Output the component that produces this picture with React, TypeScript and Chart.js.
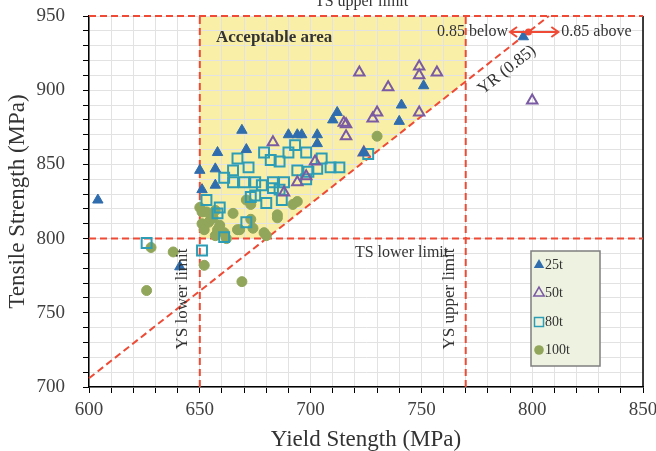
import React, { useEffect, useRef } from 'react';
import { Chart, registerables } from 'chart.js';

Chart.register(...registerables);

// Axis ranges
const X_MIN = 600, X_MAX = 850, X_STEP = 10;
const Y_MIN = 700, Y_MAX = 950, Y_STEP = 10;
const LABEL_EVERY = 50;

// Limits
const TS_LOWER = 800, TS_UPPER = 950, YS_LOWER = 650, YS_UPPER = 770, YR = 0.85;

const seriesNames = ['25t', '50t', '80t', '100t'];

// 25t (filled triangles)
const t25X = [604, 641, 650, 651, 657, 657, 658, 669, 671, 690, 694, 696, 703, 703, 710, 712, 724, 740, 741, 751, 796];
const t25Y = [826, 781, 846, 833, 847, 836, 858, 873, 860, 870, 870, 870, 870, 864, 880, 885, 858, 879, 890, 903, 936];

// 50t (open triangles)
const t50X = [683, 688, 694, 698, 702, 715, 716, 716, 722, 724, 728, 730, 735, 749, 749, 749, 757, 800];
const t50Y = [865, 831, 838, 842, 852, 878, 877, 869, 912, 858, 881, 885, 902, 916, 910, 885, 912, 893];

// 80t (open squares)
const t80X = [626, 651, 653, 658, 661, 659, 661, 665, 665, 667, 670, 672, 675, 675, 678, 679, 680, 682, 683, 683, 686, 686, 687, 688, 690, 693, 694, 698, 698, 699, 703, 705, 709, 713, 671, 673, 726];
const t80Y = [797, 792, 826, 817, 801, 821, 841, 846, 838, 854, 838, 848, 838, 829, 836, 858, 824, 853, 834, 838, 852, 833, 826, 838, 858, 863, 846, 858, 840, 845, 847, 854, 848, 848, 811, 828, 857];

// 100t (filled circles)
const t100X = [626, 628, 638, 652, 669, 650, 651, 651, 652, 653, 654, 655, 656, 657, 657, 658, 659, 661, 662, 665, 667, 668, 671, 673, 673, 674, 679, 680, 685, 685, 692, 694, 730];
const t100Y = [765, 794, 791, 782, 771, 821, 818, 810, 806, 818, 811, 813, 814, 819, 802, 806, 809, 804, 800, 817, 806, 806, 826, 823, 813, 807, 804, 802, 814, 816, 823, 825, 869];

const SERIF = '"Liberation Serif", "Times New Roman", serif';
const RED = '#EE4A35';
const COLORS = { t25: '#2F6DAE', t50: '#7A5AA3', t80: '#2C9DB5', t100: '#91A65A' };

const toPts = (xs: number[], ys: number[]) => xs.map((x, i) => ({ x, y: ys[i] }));

function drawMarker(ctx: CanvasRenderingContext2D, kind: string, cx: number, cy: number, r: number) {
  ctx.save();
  ctx.beginPath();
  if (kind === 't25' || kind === 't50') {
    ctx.moveTo(cx, cy - r);
    ctx.lineTo(cx + r * 0.866, cy + r * 0.5);
    ctx.lineTo(cx - r * 0.866, cy + r * 0.5);
    ctx.closePath();
  } else if (kind === 't80') {
    const s = r * 0.75;
    ctx.rect(cx - s, cy - s, 2 * s, 2 * s);
  } else {
    ctx.arc(cx, cy, r * 0.8, 0, Math.PI * 2);
  }
  if (kind === 't25' || kind === 't100') {
    ctx.fillStyle = (COLORS as any)[kind];
    ctx.fill();
  } else {
    ctx.strokeStyle = (COLORS as any)[kind];
    ctx.lineWidth = 1.5;
    ctx.stroke();
  }
  ctx.restore();
}

const overlay = {
  id: 'overlay',
  beforeDraw(chart: any) {
    const { ctx, scales: { x, y } } = chart;
    const pts = [
      [YS_LOWER, TS_LOWER],
      [TS_LOWER * YR, TS_LOWER],
      [YS_UPPER, YS_UPPER / YR],
      [YS_UPPER, TS_UPPER],
      [YS_LOWER, TS_UPPER],
    ];
    ctx.save();
    ctx.fillStyle = '#FAEFA7';
    ctx.beginPath();
    pts.forEach((p, i) => {
      const px = x.getPixelForValue(p[0]);
      const py = y.getPixelForValue(p[1]);
      if (i === 0) ctx.moveTo(px, py); else ctx.lineTo(px, py);
    });
    ctx.closePath();
    ctx.fill();
    ctx.restore();
  },
  beforeDatasetsDraw(chart: any) {
    const { ctx, chartArea: a, scales: { x, y } } = chart;
    ctx.save();
    // right border
    ctx.strokeStyle = '#000';
    ctx.lineWidth = 1.5;
    ctx.beginPath();
    ctx.moveTo(a.right, a.top);
    ctx.lineTo(a.right, a.bottom);
    ctx.stroke();

    ctx.strokeStyle = RED;
    ctx.lineWidth = 2;
    ctx.setLineDash([7, 4]);
    const line = (x1: number, y1: number, x2: number, y2: number) => {
      ctx.beginPath();
      ctx.moveTo(x.getPixelForValue(x1), y.getPixelForValue(y1));
      ctx.lineTo(x.getPixelForValue(x2), y.getPixelForValue(y2));
      ctx.stroke();
    };
    line(X_MIN, TS_UPPER, X_MAX, TS_UPPER);
    line(X_MIN, TS_LOWER, X_MAX, TS_LOWER);
    line(YS_LOWER, Y_MIN, YS_LOWER, Y_MAX);
    line(YS_UPPER, Y_MIN, YS_UPPER, Y_MAX);
    line(X_MIN, X_MIN / YR, Y_MAX * YR, Y_MAX);
    ctx.restore();
  },
  afterDatasetsDraw(chart: any) {
    const { ctx, chartArea: a, scales: { x, y } } = chart;
    const X = (v: number) => x.getPixelForValue(v);
    const Y = (v: number) => y.getPixelForValue(v);
    ctx.save();
    ctx.fillStyle = '#333';
    ctx.textBaseline = 'middle';

    // TS upper limit
    ctx.font = `16px ${SERIF}`;
    ctx.textAlign = 'center';
    ctx.textBaseline = 'alphabetic';
    ctx.fillText('TS upper limit', X(723), a.top - 10);
    ctx.textBaseline = 'middle';

    // Acceptable area
    ctx.font = `bold 17px ${SERIF}`;
    ctx.textAlign = 'left';
    ctx.fillText('Acceptable area', X(657.3), Y(935.5));

    // 0.85 below / above
    const ay = 939.2;
    ctx.font = `16px ${SERIF}`;
    ctx.textAlign = 'right';
    ctx.fillText('0.85 below', X(790) - 2, Y(ay));
    ctx.textAlign = 'left';
    ctx.fillText('0.85 above', X(811.8) + 3, Y(ay));

    // double arrow
    ctx.strokeStyle = RED;
    ctx.lineWidth = 2;
    const x1 = X(790), x2 = X(811.8), yy = Y(ay);
    ctx.beginPath();
    ctx.moveTo(x1, yy); ctx.lineTo(x2, yy);
    ctx.moveTo(x1 + 7, yy - 5); ctx.lineTo(x1, yy); ctx.lineTo(x1 + 7, yy + 5);
    ctx.moveTo(x2 - 7, yy - 5); ctx.lineTo(x2, yy); ctx.lineTo(x2 - 7, yy + 5);
    ctx.stroke();
    ctx.fillStyle = RED;
    ctx.beginPath();
    ctx.arc(X(ay * YR), yy, 3.5, 0, Math.PI * 2);
    ctx.fill();
    ctx.fillStyle = '#333';

    // YR (0.85)
    const ang = Math.atan2(Y(900) - Y(900 + 10), X(900 * YR + 10 * YR) - X(900 * YR));
    ctx.save();
    ctx.translate(X(788.6), Y(913.6));
    ctx.rotate(-ang);
    ctx.textAlign = 'center';
    ctx.font = `17px ${SERIF}`;
    ctx.fillText('YR (0.85)', 0, 0);
    ctx.restore();

    // TS lower limit
    ctx.font = `16px ${SERIF}`;
    ctx.textAlign = 'left';
    ctx.fillText('TS lower limit', X(720), Y(790.3));

    // YS lower / upper limit (vertical)
    const vtext = (t: string, xv: number, yv: number) => {
      ctx.save();
      ctx.translate(X(xv), Y(yv));
      ctx.rotate(-Math.PI / 2);
      ctx.textAlign = 'center';
      ctx.font = `17px ${SERIF}`;
      ctx.fillText(t, 0, 0);
      ctx.restore();
    };
    vtext('YS lower limit', 642.4, 759.3);
    vtext('YS upper limit', 762.9, 759.3);

    // Legend box
    const lx = a.right - 112, ly = a.top + 235, lw = 69, lh = 115;
    ctx.fillStyle = '#EEF3E1';
    ctx.fillRect(lx, ly, lw, lh);
    ctx.strokeStyle = '#7F7F7F';
    ctx.lineWidth = 1.5;
    ctx.strokeRect(lx, ly, lw, lh);
    const kinds = ['t25', 't50', 't80', 't100'];
    const rows = [14, 42, 71, 99];
    ctx.font = `14px ${SERIF}`;
    ctx.textAlign = 'left';
    kinds.forEach((k, i) => {
      drawMarker(ctx, k, lx + 8, ly + rows[i], 6);
      ctx.fillStyle = '#333';
      ctx.fillText(seriesNames[i], lx + 14, ly + rows[i]);
    });
    ctx.restore();
  },
};

export default function App() {
  const ref = useRef<HTMLCanvasElement>(null);
  useEffect(() => {
    if (!ref.current) return;
    const tickCb = (v: any) => (Number(v) % LABEL_EVERY === 0 ? String(v) : '');
    const chart = new Chart(ref.current, {
      type: 'scatter',
      data: {
        datasets: [
          {
            label: seriesNames[0], data: toPts(t25X, t25Y), pointStyle: 'triangle', pointRadius: 6,
            backgroundColor: COLORS.t25, borderColor: COLORS.t25, borderWidth: 1,
          },
          {
            label: seriesNames[1], data: toPts(t50X, t50Y), pointStyle: 'triangle', pointRadius: 6,
            backgroundColor: 'rgba(0,0,0,0)', borderColor: COLORS.t50, borderWidth: 2,
          },
          {
            label: seriesNames[2], data: toPts(t80X, t80Y), pointStyle: 'rect', pointRadius: 7,
            backgroundColor: 'rgba(0,0,0,0)', borderColor: COLORS.t80, borderWidth: 2,
          },
          {
            label: seriesNames[3], data: toPts(t100X, t100Y), pointStyle: 'circle', pointRadius: 5,
            backgroundColor: COLORS.t100, borderColor: COLORS.t100, borderWidth: 1,
          },
        ],
      },
      options: {
        animation: false,
        responsive: false,
        layout: { padding: { top: 16, right: 13, left: 0, bottom: 0 } },
        plugins: { legend: { display: false }, tooltip: { enabled: false } },
        scales: {
          x: {
            type: 'linear', min: X_MIN, max: X_MAX,
            ticks: {
              stepSize: X_STEP, autoSkip: false, maxRotation: 0, callback: tickCb,
              font: { family: SERIF, size: 19 }, color: '#404040', padding: 6,
            },
            grid: { color: '#E2E2E2', lineWidth: 1, tickColor: '#000', tickLength: 6 },
            border: { display: true, color: '#000', width: 1.5 },
            title: {
              display: true, text: 'Yield Stength (MPa)', color: '#333',
              font: { family: SERIF, size: 23, lineHeight: 1 }, padding: { top: 0, bottom: 0 },
            },
            afterFit: (s: any) => { s.height = 64; s.paddingLeft = 0; s.paddingRight = 0; },
          },
          y: {
            type: 'linear', min: Y_MIN, max: Y_MAX,
            ticks: {
              stepSize: Y_STEP, autoSkip: false, callback: tickCb,
              font: { family: SERIF, size: 19 }, color: '#404040', padding: 18,
            },
            grid: { color: '#E2E2E2', lineWidth: 1, tickColor: '#000', tickLength: 6 },
            border: { display: true, color: '#000', width: 1.5 },
            title: {
              display: true, text: 'Tensile Strength (MPa)', color: '#333',
              font: { family: SERIF, size: 23, lineHeight: 1 }, padding: { top: 6, bottom: 0 },
            },
            afterFit: (s: any) => { s.width = 89; s.paddingTop = 0; s.paddingBottom = 0; },
          },
        },
      },
      plugins: [overlay],
    } as any);
    return () => chart.destroy();
  }, []);
  return (
    <div style={{ position: 'absolute', left: 0, top: 0, width: 656, height: 451, background: '#fff' }}>
      <canvas ref={ref} width={656} height={451} style={{ display: 'block' }} />
    </div>
  );
}
